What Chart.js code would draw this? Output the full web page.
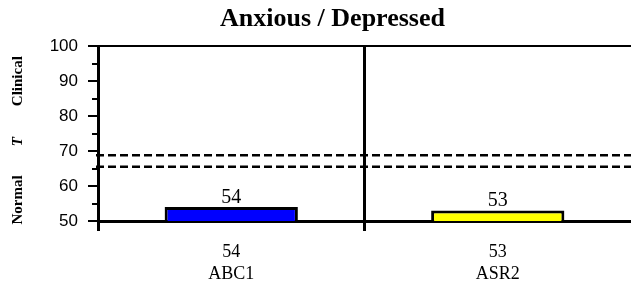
<!DOCTYPE html>
<html>
<head>
<meta charset="utf-8">
<script src="https://cdn.jsdelivr.net/npm/chart.js@4/dist/chart.umd.min.js"></script>
<style>
html,body{margin:0;padding:0;background:#fff;}
#wrap{width:631px;height:287px;}
</style>
</head>
<body>
<div id="wrap"><canvas id="c" width="631" height="287"></canvas></div>
<script>
const categories = ['ABC1', 'ASR2'];
const scores = [54, 53];
const barColors = ['#0000FF', '#FFFF00'];
const cutoffs = [65.5, 68.8];
const yMin = 50, yMax = 100, yStep = 5;
const titleText = 'Anxious / Depressed';
const sideLabels = [
  {text: 'Clinical', value: 90, italic: false},
  {text: 'T', value: 72.7, italic: true},
  {text: 'Normal', value: 56, italic: false}
];

const serif = '"Liberation Serif", "Times New Roman", serif';
const sans = '"Liberation Sans", Arial, sans-serif';

const overlay = {
  id: 'overlay',
  afterDatasetsDraw(chart) {
    const ctx = chart.ctx;
    const y = chart.scales.y;
    const area = chart.chartArea;
    ctx.save();
    // cutoff dashed lines
    ctx.strokeStyle = '#000';
    ctx.lineWidth = 2.5;
    ctx.setLineDash([8, 4]);
    cutoffs.forEach(v => {
      const py = y.getPixelForValue(v);
      ctx.beginPath();
      ctx.moveTo(area.left - 2, py);
      ctx.lineTo(area.right, py);
      ctx.stroke();
    });
    ctx.setLineDash([]);
    // value labels
    ctx.fillStyle = '#000';
    ctx.font = '20px ' + serif;
    ctx.textAlign = 'center';
    ctx.textBaseline = 'alphabetic';
    chart.getDatasetMeta(0).data.forEach((bar, i) => {
      ctx.fillText(String(scores[i]), bar.x, bar.y - 4.5);
    });
    ctx.restore();
  },
  afterDraw(chart) {
    const ctx = chart.ctx;
    const y = chart.scales.y;
    const area = chart.chartArea;
    ctx.save();
    // minor ticks
    ctx.strokeStyle = '#000';
    ctx.lineWidth = 2;
    for (let v = yMin + yStep; v < yMax; v += 2 * yStep) {
      const py = Math.round(y.getPixelForValue(v));
      ctx.beginPath();
      ctx.moveTo(area.left - 6, py);
      ctx.lineTo(area.left, py);
      ctx.stroke();
    }
    // side labels
    ctx.fillStyle = '#000';
    ctx.textAlign = 'center';
    ctx.textBaseline = 'middle';
    sideLabels.forEach(s => {
      const py = y.getPixelForValue(s.value);
      ctx.save();
      ctx.translate(18, py);
      ctx.rotate(-Math.PI / 2);
      ctx.font = (s.italic ? 'italic ' : '') + 'bold 15px ' + serif;
      ctx.fillText(s.text, 0, 0);
      ctx.restore();
    });
    ctx.restore();
  }
};

new Chart(document.getElementById('c'), {
  type: 'bar',
  data: {
    labels: categories.map((c, i) => [String(scores[i]), c]),
    datasets: [{
      data: scores,
      backgroundColor: barColors,
      borderColor: '#000',
      borderWidth: 3,
      borderSkipped: false,
      barPercentage: 0.5,
      categoryPercentage: 1.0
    }]
  },
  options: {
    responsive: false,
    animation: false,
    devicePixelRatio: 1,
    layout: {padding: {left: 34, right: 0, top: 0, bottom: 0}},
    plugins: {
      legend: {display: false},
      tooltip: {enabled: false},
      title: {
        display: true,
        text: titleText,
        color: '#000',
        font: {family: serif, size: 26, weight: 'bold', lineHeight: 1.2},
        padding: {top: 4, bottom: 11}
      }
    },
    scales: {
      x: {
        type: 'category',
        offset: true,
        grid: {
          offset: true,
          display: true,
          drawOnChartArea: true,
          color: (c) => c.index === 1 ? '#000' : 'rgba(0,0,0,0)',
          lineWidth: 3,
          tickColor: (c) => (c.index === 0 || c.index === 1) ? '#000' : 'rgba(0,0,0,0)',
          tickWidth: 3,
          tickLength: 10
        },
        border: {display: true, color: '#000', width: 3},
        ticks: {
          color: '#000',
          font: {family: serif, size: 18, lineHeight: 1.22},
          padding: 10,
          maxRotation: 0,
          autoSkip: false
        },
        afterFit(s) { s.height = 66; }
      },
      y: {
        min: yMin,
        max: yMax,
        grid: {
          display: true,
          drawOnChartArea: true,
          color: (c) => (c.tick && c.tick.value === yMax) ? '#000' : 'rgba(0,0,0,0)',
          lineWidth: 2,
          tickColor: (c) => (c.tick && c.tick.value % 10 === 0) ? '#000' : 'rgba(0,0,0,0)',
          tickWidth: 2,
          tickLength: 10
        },
        border: {display: true, color: '#000', width: 3},
        ticks: {
          stepSize: yStep,
          color: '#000',
          font: {family: sans, size: 17},
          padding: 10,
          callback: (v) => v % 10 === 0 ? String(v) : ''
        },
        afterFit(s) { s.width = 64; }
      }
    }
  },
  plugins: [overlay]
});
</script>
</body>
</html>
